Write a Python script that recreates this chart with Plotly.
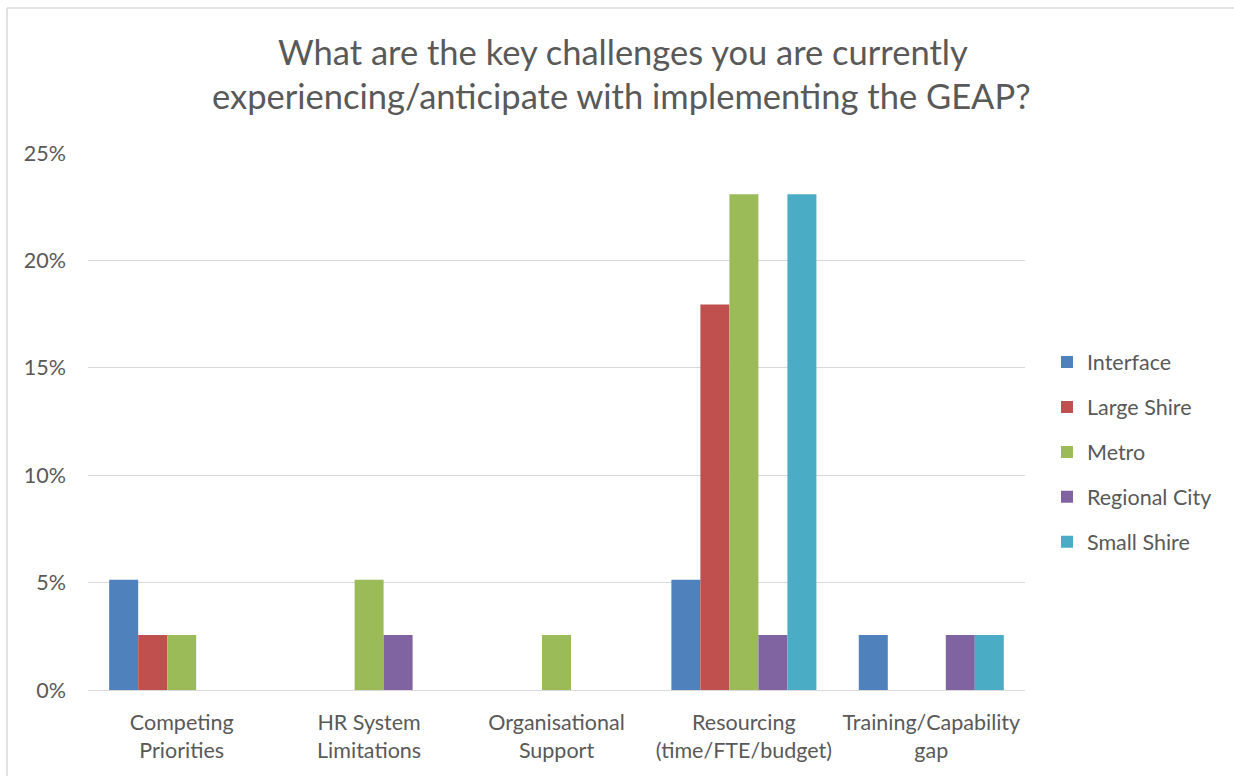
import plotly.graph_objects as go

# Survey categories (x axis) and share of respondents per council type
categories = [
    "Competing<br>Priorities",
    "HR System<br>Limitations",
    "Organisational<br>Support",
    "Resourcing<br>(time/FTE/budget)",
    "Training/Capability<br>gap",
]

interface = [0.0513, None, None, 0.0513, 0.0256]
large_shire = [0.0256, None, None, 0.1795, None]
metro = [0.0256, 0.0513, 0.0256, 0.2308, None]
regional_city = [None, 0.0256, None, 0.0256, 0.0256]
small_shire = [None, None, None, 0.2308, 0.0256]

series = [
    ("Interface", interface, "#4F81BD"),
    ("Large Shire", large_shire, "#C0504D"),
    ("Metro", metro, "#9BBB59"),
    ("Regional City", regional_city, "#8064A2"),
    ("Small Shire", small_shire, "#4BACC6"),
]

title_lines = [
    "What are the key challenges you are currently",
    "experiencing/anticipate with implementing the GEAP?",
]

y_ticks = [0, 0.05, 0.10, 0.15, 0.20, 0.25]

W, H = 1234, 776
ML, MR, MT, MB = 88, 209, 153, 86
PW, PH = W - ML - MR, H - MT - MB

TEXT = "#595959"
GRID = "#D9D9D9"
FONT = "Lato, Carlito, Calibri, sans-serif"
TITLE_SIZE = 34.5
LABEL_SIZE = 21.5

fig = go.Figure()
for name, vals, color in series:
    fig.add_trace(go.Bar(
        name=name, x=categories, y=vals,
        marker=dict(color=color, line=dict(width=0)),
        legendgroup=name,
    ))


def px_x(px):
    return (px - ML) / PW


def px_y(py):
    return (H - MB - py) / PH


# Outer chart frame (light grey border)
frame = dict(type="line", xref="paper", yref="paper",
             line=dict(color=GRID, width=1.5), layer="below")
fig.add_shape(**frame, x0=px_x(7), x1=px_x(7), y0=px_y(8), y1=px_y(H + 5))
fig.add_shape(**frame, x0=px_x(7), x1=px_x(W + 5), y0=px_y(8), y1=px_y(8))

# Two-line chart title, one annotation per line
for line, cx, cy in zip(title_lines, [623, 621.5], [51, 95]):
    fig.add_annotation(
        text=line, xref="paper", yref="paper",
        x=px_x(cx), y=px_y(cy), xanchor="center", yanchor="middle",
        showarrow=False,
        font=dict(family=FONT, size=TITLE_SIZE, color=TEXT),
    )

fig.update_layout(
    width=W, height=H,
    margin=dict(l=ML, r=MR, t=MT, b=MB, pad=0),
    paper_bgcolor="white", plot_bgcolor="white",
    font=dict(family=FONT, color=TEXT, size=LABEL_SIZE),
    barmode="group", bargap=0.226, bargroupgap=0,
    xaxis=dict(
        showgrid=False, showline=True, linecolor=GRID, linewidth=1,
        ticks="", tickfont=dict(size=LABEL_SIZE, color=TEXT),
        ticklabelstandoff=13,
    ),
    yaxis=dict(
        range=[0, 0.25], tickvals=y_ticks, tickformat=".0%",
        showgrid=True, gridcolor=GRID, gridwidth=1,
        zeroline=True, zerolinecolor=GRID, zerolinewidth=1,
        showline=False, ticks="", tickfont=dict(size=LABEL_SIZE, color=TEXT),
        ticklabelstandoff=21,
    ),
    legend=dict(
        x=px_x(1047), xanchor="left", y=px_y(452), yanchor="middle",
        font=dict(size=LABEL_SIZE, color=TEXT),
        traceorder="grouped", tracegroupgap=14,
        bgcolor="rgba(0,0,0,0)",
    ),
    showlegend=True,
)

fig.write_html("out.html")
